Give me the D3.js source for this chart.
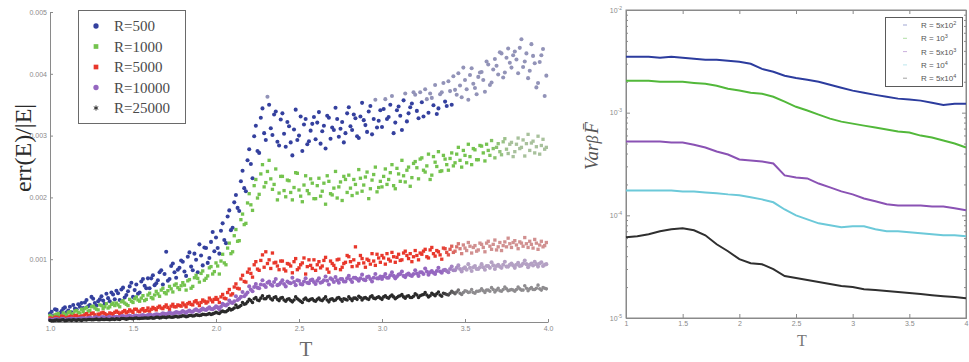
<!DOCTYPE html>
<html>
<head>
<meta charset="utf-8">
<script src="https://cdn.jsdelivr.net/npm/d3@7"></script>
<style>
  html, body { margin: 0; padding: 0; background: #fff; }
  svg { display: block; }
  .ax path, .ax line { stroke: #8a8a8a; }
  .ax text { font-family: 'Liberation Sans', sans-serif; font-size: 7px; fill: #8a8a8a; }
</style>
</head>
<body>
<svg id="chart" width="969" height="362"></svg>
<script>
// ---------- left panel: err(E)/|E| against T (values in units of 1e-4) ----------
// two interleaved sampling grids: T = 1.00, 1.02, ... and T = 1.01, 1.03, ...
const scatterTa = d3.range(100, 400, 2).map(k => k / 100);
const scatterTb = d3.range(101, 400, 2).map(k => k / 100);

const errR500a = [
  1.2, 0.8, 1.8, 1.3, 2.0, 1.4, 2.3, 2.6, 1.9, 2.3,
  2.1, 3.4, 2.6, 3.6, 2.5, 3.5, 3.3, 4.4, 3.2, 4.3,
  4.9, 3.4, 5.4, 4.2, 5.6, 3.9, 5.9, 4.6, 6.8, 5.3,
  5.3, 7.4, 6.1, 7.9, 5.9, 11.2, 6.8, 9.3, 7.0, 8.6,
  9.6, 7.3, 11.1, 8.2, 9.9, 12.4, 9.0, 11.8, 10.2, 14.4,
  13.5, 10.9, 15.8, 12.6, 17.9, 15.1, 20.4, 17.8, 24.3, 21.0,
  27.8, 23.1, 31.6, 27.2, 34.4, 29.3, 35.0, 30.1, 33.9, 28.4,
  33.6, 28.2, 31.5, 26.8, 34.2, 30.0, 27.5, 32.7, 29.1, 31.9,
  29.4, 33.8, 30.7, 27.9, 32.9, 31.3, 34.5, 29.8, 32.2, 30.4,
  34.6, 30.9, 32.8, 29.6, 35.3, 31.7, 33.9, 30.2, 35.8, 32.4,
  31.4, 35.9, 33.0, 36.4, 32.1, 34.7, 30.9, 36.8, 33.6, 35.2,
  36.6, 32.8, 35.4, 37.5, 33.7, 36.1, 38.2, 34.4, 37.0, 35.5,
  38.8, 35.0, 37.4, 40.1, 36.2, 39.0, 35.8, 40.9, 37.7, 39.5,
  40.3, 37.1, 41.5, 38.6, 42.4, 39.9, 43.3, 40.2, 44.1, 41.0,
  43.6, 40.1, 45.6, 42.0, 39.3, 44.8, 41.7, 38.5, 43.0, 36.4
];
const errR500b = [
  1.5, 1.9, 1.0, 1.6, 2.2, 1.7, 1.4, 2.0, 2.7, 2.9,
  3.0, 2.4, 3.9, 2.9, 3.2, 4.0, 2.8, 3.7, 4.6, 3.5,
  4.5, 5.1, 3.8, 4.8, 6.2, 5.0, 4.4, 6.4, 5.7, 6.9,
  6.9, 5.8, 6.6, 8.2, 7.6, 6.5, 8.9, 7.9, 8.3, 9.8,
  8.0, 10.4, 8.8, 10.9, 7.9, 10.6, 11.9, 9.4, 12.8, 11.3,
  11.8, 14.6, 13.1, 16.9, 14.7, 19.2, 18.3, 22.6, 21.5, 26.0,
  25.4, 29.9, 27.5, 32.9, 30.4, 36.3, 31.2, 33.4, 29.0, 32.6,
  30.3, 32.2, 28.9, 31.0, 29.3, 33.1, 31.8, 28.6, 30.8, 33.0,
  32.1, 28.7, 31.6, 33.2, 29.5, 30.9, 32.7, 31.1, 28.9, 33.6,
  31.5, 33.4, 29.9, 33.1, 32.5, 30.6, 34.8, 32.7, 31.3, 34.1,
  34.3, 32.7, 35.0, 30.4, 34.1, 33.2, 35.7, 32.3, 34.6, 37.0,
  34.0, 37.0, 33.1, 35.9, 36.8, 34.9, 33.5, 36.7, 38.5, 34.8,
  37.2, 39.6, 36.6, 38.1, 41.0, 37.5, 39.8, 38.4, 36.7, 40.2,
  39.0, 42.0, 38.2, 40.7, 41.3, 43.5, 39.4, 42.6, 41.8, 43.0,
  42.3, 44.2, 41.1, 43.3, 40.5, 42.9, 37.8, 41.9, 44.0, 39.7
];
const errR1000a = [
  0.9, 0.5, 1.1, 0.8, 1.3, 0.9, 1.5, 1.2, 1.7, 1.3,
  1.5, 2.2, 1.7, 2.4, 1.9, 2.6, 2.0, 2.8, 2.3, 2.9,
  2.9, 2.3, 3.3, 2.7, 3.5, 3.0, 3.9, 3.2, 4.1, 3.5,
  4.5, 3.6, 4.8, 4.0, 5.3, 4.4, 5.6, 4.7, 6.0, 5.1,
  6.2, 5.0, 6.7, 5.6, 7.4, 6.3, 8.1, 6.9, 8.6, 7.6,
  9.4, 7.6, 10.8, 9.1, 12.6, 11.2, 14.8, 13.0, 17.3, 15.8,
  20.6, 17.9, 22.9, 20.5, 25.3, 22.4, 26.0, 21.3, 24.6, 20.7,
  23.4, 20.1, 22.7, 19.6, 24.0, 21.2, 19.3, 23.5, 20.6, 22.3,
  19.8, 23.1, 21.0, 18.9, 22.6, 20.4, 24.2, 21.7, 19.5, 22.9,
  23.6, 20.3, 22.1, 24.5, 21.0, 23.3, 19.8, 22.8, 24.9, 21.6,
  21.7, 24.6, 22.9, 25.3, 21.4, 23.8, 26.0, 22.5, 24.9, 23.2,
  25.8, 23.0, 26.4, 24.1, 27.0, 23.6, 25.7, 27.4, 24.3, 26.2,
  24.4, 27.2, 25.6, 28.1, 24.9, 26.8, 28.6, 25.3, 27.7, 26.1,
  28.3, 25.9, 27.6, 29.2, 26.4, 28.7, 26.9, 29.5, 27.1, 28.9,
  27.4, 29.6, 28.1, 26.7, 30.2, 28.8, 27.2, 29.9, 28.4, 27.8
];
const errR1000b = [
  0.7, 1.0, 1.2, 0.8, 1.1, 1.4, 1.0, 1.6, 1.4, 1.9,
  2.0, 1.6, 2.3, 2.1, 1.8, 2.5, 2.3, 2.1, 2.7, 2.5,
  2.6, 3.1, 2.9, 2.5, 3.2, 3.6, 3.4, 3.7, 3.3, 4.2,
  3.8, 4.2, 4.4, 5.0, 4.6, 4.9, 5.2, 5.8, 5.4, 5.7,
  5.8, 6.5, 5.3, 7.0, 6.9, 7.7, 6.6, 7.3, 8.8, 8.0,
  8.9, 9.7, 9.4, 11.8, 10.9, 13.8, 12.9, 16.4, 15.6, 19.1,
  18.8, 21.9, 19.9, 23.8, 21.7, 24.2, 23.0, 22.1, 19.6, 23.4,
  21.1, 22.8, 20.8, 21.6, 23.9, 20.2, 22.0, 21.1, 23.0, 19.8,
  21.9, 20.2, 22.3, 23.5, 20.6, 21.5, 19.9, 22.5, 23.4, 20.8,
  21.5, 22.9, 20.7, 23.1, 22.0, 24.1, 21.4, 23.7, 20.9, 22.6,
  23.4, 22.1, 24.0, 21.9, 24.7, 22.6, 23.5, 24.4, 21.8, 25.5,
  24.8, 26.2, 24.4, 25.1, 22.9, 26.6, 25.0, 24.2, 26.8, 25.3,
  26.3, 25.1, 27.0, 26.0, 27.6, 25.6, 26.6, 27.9, 26.1, 28.4,
  27.2, 28.6, 26.8, 27.9, 28.1, 27.4, 29.0, 27.8, 28.6, 26.6,
  28.6, 27.9, 29.3, 28.7, 27.6, 29.1, 28.2, 27.0, 29.4, 28.1
];
const errR5000a = [
  0.5, 0.3, 0.6, 0.4, 0.7, 0.5, 0.8, 0.6, 0.9, 0.7,
  0.8, 1.2, 0.9, 1.3, 0.7, 1.1, 1.4, 1.0, 1.3, 0.9,
  1.6, 1.1, 1.5, 1.3, 1.8, 1.4, 1.9, 1.5, 2.0, 1.7,
  1.6, 2.2, 1.8, 2.4, 2.0, 2.6, 1.9, 2.7, 2.3, 2.5,
  2.9, 2.3, 3.0, 2.6, 3.3, 2.5, 3.4, 2.9, 3.7, 3.1,
  3.8, 3.0, 4.3, 3.6, 5.1, 4.4, 6.0, 5.2, 7.4, 6.3,
  8.4, 7.1, 9.6, 8.2, 10.7, 11.2, 9.9, 11.0, 9.5, 8.3,
  9.7, 8.1, 9.2, 7.8, 10.1, 8.6, 9.4, 7.6, 9.9, 8.5,
  8.2, 9.6, 8.9, 10.3, 7.9, 9.3, 8.5, 10.0, 8.7, 9.5,
  10.4, 8.8, 12.0, 9.3, 10.1, 8.7, 9.8, 10.9, 9.0, 10.2,
  10.6, 9.2, 10.0, 11.1, 9.5, 10.8, 9.9, 11.3, 10.1, 9.6,
  11.4, 9.9, 10.8, 11.6, 10.2, 11.9, 10.5, 11.2, 10.0, 11.7,
  10.7, 12.1, 11.3, 12.5, 10.9, 11.8, 12.7, 11.0, 12.2, 11.5,
  12.4, 11.2, 12.9, 11.6, 13.1, 12.0, 11.4, 12.8, 13.4, 11.9,
  13.0, 11.7, 12.6, 13.5, 11.9, 12.4, 13.2, 11.6, 12.9, 12.2
];
const errR5000b = [
  0.4, 0.6, 0.5, 0.8, 0.4, 0.6, 0.7, 0.9, 0.6, 0.8,
  1.0, 0.9, 1.2, 1.0, 1.1, 1.3, 1.2, 0.9, 1.2, 1.4,
  1.4, 1.3, 1.7, 1.5, 1.6, 1.9, 1.6, 1.8, 1.6, 2.1,
  1.9, 2.0, 2.2, 2.1, 2.3, 2.2, 2.4, 2.3, 2.6, 2.4,
  2.6, 2.8, 2.7, 3.1, 2.9, 3.0, 3.2, 3.1, 3.4, 3.5,
  3.5, 3.9, 3.7, 4.6, 4.2, 5.5, 5.3, 6.8, 6.4, 7.9,
  7.7, 9.1, 8.4, 9.8, 8.7, 9.3, 8.5, 9.4, 8.9, 9.7,
  8.4, 9.3, 8.9, 9.6, 8.3, 9.1, 10.2, 8.8, 9.0, 9.9,
  9.1, 8.6, 9.8, 8.4, 9.7, 9.0, 9.9, 8.3, 9.3, 10.6,
  9.6, 9.9, 8.9, 10.6, 9.4, 10.0, 9.2, 9.7, 10.8, 9.5,
  10.2, 10.9, 9.7, 10.4, 10.3, 9.8, 11.0, 10.6, 10.9, 10.4,
  10.6, 11.0, 11.3, 10.4, 11.5, 10.9, 11.4, 10.7, 11.8, 11.1,
  11.6, 11.1, 12.0, 11.7, 12.3, 11.4, 12.1, 11.9, 11.3, 12.6,
  11.9, 12.6, 12.1, 12.4, 11.5, 12.7, 12.2, 12.0, 12.5, 12.7,
  12.3, 12.8, 12.1, 12.5, 12.9, 11.8, 12.6, 12.3, 12.0, 12.7
];
const errR10000a = [
  0.25, 0.15, 0.3, 0.2, 0.35, 0.25, 0.3, 0.35, 0.25, 0.4,
  0.45, 0.35, 0.55, 0.4, 0.6, 0.45, 0.65, 0.5, 0.7, 0.55,
  0.7, 0.55, 0.8, 0.65, 0.85, 0.7, 0.9, 0.75, 0.95, 0.8,
  1.0, 0.8, 1.1, 0.95, 1.25, 1.05, 1.35, 1.15, 1.45, 1.3,
  1.6, 1.3, 1.7, 1.5, 1.9, 1.6, 2.0, 1.8, 2.2, 1.9,
  2.4, 1.9, 2.8, 2.5, 3.3, 2.9, 4.0, 3.6, 4.7, 4.3,
  5.6, 4.8, 6.0, 5.3, 6.6, 5.5, 6.4, 5.7, 6.8, 5.9,
  6.6, 5.6, 6.2, 7.0, 5.8, 6.5, 5.9, 6.9, 6.1, 6.7,
  6.0, 6.9, 6.3, 7.2, 5.9, 6.7, 7.1, 6.2, 6.8, 6.4,
  7.3, 6.3, 7.0, 6.5, 7.5, 6.6, 7.2, 6.4, 7.6, 6.9,
  6.8, 7.6, 7.0, 7.9, 6.9, 7.5, 8.0, 7.1, 7.7, 7.3,
  8.2, 7.3, 7.9, 8.5, 7.5, 8.1, 7.6, 8.6, 7.8, 8.3,
  7.9, 8.8, 8.2, 9.0, 8.0, 8.7, 9.2, 8.1, 8.9, 8.4,
  9.2, 8.3, 8.9, 9.5, 8.4, 9.1, 8.6, 9.6, 8.8, 9.3,
  8.6, 9.4, 9.0, 9.8, 8.7, 9.3, 9.6, 8.8, 9.5, 9.1
];
const errR10000b = [
  0.2, 0.3, 0.25, 0.35, 0.2, 0.3, 0.4, 0.3, 0.35, 0.45,
  0.4, 0.5, 0.45, 0.55, 0.5, 0.6, 0.55, 0.6, 0.5, 0.65,
  0.65, 0.75, 0.7, 0.8, 0.75, 0.85, 0.8, 0.9, 0.85, 0.95,
  0.95, 1.0, 1.05, 1.1, 1.15, 1.2, 1.25, 1.3, 1.35, 1.4,
  1.45, 1.55, 1.5, 1.75, 1.7, 1.8, 1.85, 2.0, 1.95, 2.1,
  2.2, 2.3, 2.6, 2.7, 3.0, 3.2, 3.4, 3.9, 4.0, 4.6,
  5.1, 5.5, 5.4, 5.9, 5.8, 6.2, 5.9, 6.3, 5.8, 6.2,
  6.0, 6.4, 6.1, 6.3, 6.6, 6.0, 6.4, 6.2, 6.6, 6.3,
  6.5, 6.2, 6.6, 6.5, 6.9, 6.3, 6.6, 6.8, 6.4, 6.9,
  6.7, 7.0, 6.8, 6.9, 6.7, 7.1, 6.8, 7.0, 6.9, 7.2,
  7.2, 7.0, 7.4, 7.3, 7.2, 7.6, 7.3, 7.5, 7.4, 7.6,
  7.7, 7.9, 7.6, 8.0, 7.9, 7.8, 8.1, 8.0, 8.2, 8.1,
  8.4, 8.2, 8.6, 8.4, 8.5, 8.3, 8.6, 8.7, 8.4, 8.7,
  8.7, 8.9, 8.6, 9.0, 8.9, 8.8, 9.1, 8.8, 9.1, 9.0,
  9.1, 8.9, 9.3, 9.2, 9.1, 9.0, 9.2, 9.3, 8.9, 9.2
];
const errR25000a = [
  0.1, 0.05, 0.15, 0.1, 0.2, 0.1, 0.15, 0.2, 0.1, 0.15,
  0.2, 0.15, 0.25, 0.2, 0.3, 0.2, 0.25, 0.3, 0.2, 0.3,
  0.35, 0.25, 0.4, 0.3, 0.45, 0.35, 0.5, 0.4, 0.45, 0.5,
  0.5, 0.45, 0.6, 0.5, 0.65, 0.55, 0.7, 0.6, 0.75, 0.7,
  0.85, 0.7, 0.9, 0.8, 1.0, 0.9, 1.1, 1.0, 1.2, 1.15,
  1.4, 1.2, 1.6, 1.5, 2.0, 1.9, 2.6, 2.3, 3.0, 2.8,
  3.5, 3.0, 3.8, 3.3, 4.1, 3.6, 4.0, 3.4, 3.9, 3.3,
  3.8, 3.2, 3.6, 3.1, 3.9, 3.4, 3.0, 3.7, 3.3, 3.6,
  3.2, 3.7, 3.3, 3.9, 3.1, 3.6, 3.4, 3.8, 3.2, 3.5,
  3.9, 3.3, 3.7, 4.0, 3.4, 3.8, 3.5, 4.1, 3.6, 3.9,
  3.5, 4.1, 3.7, 4.2, 3.6, 4.0, 4.3, 3.7, 4.1, 3.8,
  4.4, 3.8, 4.2, 4.6, 3.9, 4.5, 4.1, 4.7, 4.0, 4.4,
  4.2, 4.8, 4.4, 5.0, 4.3, 4.9, 4.6, 5.1, 4.5, 4.8,
  5.2, 4.6, 5.0, 5.4, 4.7, 5.3, 4.8, 5.5, 4.9, 5.1,
  4.8, 5.5, 5.0, 5.7, 4.9, 5.4, 5.1, 5.8, 5.0, 5.3
];
const errR25000b = [
  0.05, 0.1, 0.1, 0.15, 0.05, 0.15, 0.1, 0.15, 0.2, 0.1,
  0.2, 0.25, 0.2, 0.25, 0.2, 0.3, 0.25, 0.25, 0.3, 0.25,
  0.3, 0.4, 0.35, 0.35, 0.4, 0.45, 0.4, 0.45, 0.5, 0.45,
  0.55, 0.5, 0.6, 0.55, 0.6, 0.65, 0.6, 0.7, 0.65, 0.75,
  0.8, 0.75, 0.9, 0.85, 0.95, 0.95, 1.05, 1.1, 1.05, 1.25,
  1.3, 1.45, 1.5, 1.7, 1.8, 2.1, 2.2, 2.5, 2.7, 3.1,
  3.3, 3.6, 3.4, 3.7, 3.6, 3.9, 3.6, 3.8, 3.5, 3.7,
  3.4, 3.5, 3.3, 3.4, 3.6, 3.2, 3.5, 3.4, 3.5, 3.3,
  3.5, 3.4, 3.6, 3.4, 3.5, 3.3, 3.7, 3.5, 3.6, 3.4,
  3.6, 3.7, 3.5, 3.8, 3.7, 3.6, 3.9, 3.7, 3.8, 3.7,
  3.9, 3.8, 4.0, 3.9, 3.8, 4.1, 3.9, 4.0, 3.8, 4.0,
  4.2, 4.1, 4.3, 4.2, 4.1, 4.3, 4.4, 4.2, 4.5, 4.3,
  4.5, 4.6, 4.7, 4.5, 4.6, 4.8, 4.7, 4.6, 4.8, 4.9,
  4.9, 5.0, 4.8, 5.1, 5.0, 4.9, 5.1, 5.2, 5.0, 5.0,
  5.1, 5.2, 5.0, 5.3, 5.2, 5.1, 5.3, 5.2, 5.4, 5.2
];
const scatterLabels = ['R=500', 'R=1000', 'R=5000', 'R=10000', 'R=25000'];
const errTicks = [0.001, 0.002, 0.003, 0.004, 0.005];
const leftTTicks = [1.0, 1.5, 2.0, 2.5, 3.0, 3.5, 4.0];

// ---------- right panel: Var of beta F-bar against T ----------
const lineT = d3.range(10, 41).map(k => k / 10);
const varR5e2 = [3.50e-3, 3.50e-3, 3.50e-3, 3.42e-3, 3.50e-3, 3.42e-3, 3.35e-3, 3.27e-3, 3.27e-3, 3.20e-3,
  3.13e-3, 2.99e-3, 2.67e-3, 2.50e-3, 2.29e-3, 2.18e-3, 2.09e-3, 2.00e-3, 1.87e-3, 1.75e-3,
  1.64e-3, 1.56e-3, 1.49e-3, 1.43e-3, 1.37e-3, 1.34e-3, 1.31e-3, 1.25e-3, 1.19e-3, 1.22e-3, 1.22e-3];
const varR1e3 = [2.05e-3, 2.05e-3, 2.05e-3, 2.00e-3, 2.00e-3, 2.00e-3, 1.95e-3, 1.91e-3, 1.83e-3, 1.71e-3,
  1.64e-3, 1.56e-3, 1.53e-3, 1.43e-3, 1.28e-3, 1.14e-3, 1.05e-3, 9.58e-4, 8.75e-4, 8.18e-4,
  7.82e-4, 7.48e-4, 7.16e-4, 6.84e-4, 6.54e-4, 6.40e-4, 5.98e-4, 5.72e-4, 5.35e-4, 5.00e-4, 4.58e-4];
const varR5e3 = [5.23e-4, 5.23e-4, 5.23e-4, 5.23e-4, 5.11e-4, 5.11e-4, 4.88e-4, 4.58e-4, 4.19e-4, 3.91e-4,
  3.50e-4, 3.42e-4, 3.35e-4, 3.20e-4, 2.45e-4, 2.34e-4, 2.29e-4, 2.04e-4, 1.87e-4, 1.71e-4,
  1.60e-4, 1.46e-4, 1.37e-4, 1.28e-4, 1.25e-4, 1.25e-4, 1.25e-4, 1.22e-4, 1.22e-4, 1.17e-4, 1.12e-4];
const varR1e4 = [1.75e-4, 1.75e-4, 1.75e-4, 1.75e-4, 1.75e-4, 1.71e-4, 1.71e-4, 1.67e-4, 1.64e-4, 1.60e-4,
  1.57e-4, 1.50e-4, 1.43e-4, 1.34e-4, 1.14e-4, 1.00e-4, 9.14e-5, 8.36e-5, 7.99e-5, 7.64e-5,
  7.82e-5, 7.82e-5, 7.31e-5, 6.99e-5, 6.99e-5, 6.83e-5, 6.68e-5, 6.53e-5, 6.39e-5, 6.39e-5, 6.25e-5];
const varR5e4 = [6.11e-5, 6.25e-5, 6.53e-5, 6.99e-5, 7.31e-5, 7.48e-5, 7.15e-5, 6.39e-5, 5.23e-5, 4.47e-5,
  3.74e-5, 3.42e-5, 3.34e-5, 2.99e-5, 2.56e-5, 2.45e-5, 2.34e-5, 2.24e-5, 2.14e-5, 2.05e-5,
  2.00e-5, 1.91e-5, 1.87e-5, 1.83e-5, 1.79e-5, 1.75e-5, 1.71e-5, 1.67e-5, 1.63e-5, 1.60e-5, 1.56e-5];
const lineLabels = ['R = 5x10', 'R = 10', 'R = 5x10', 'R = 10', 'R = 5x10'];
const lineLabelExp = ['2', '3', '3', '4', '4'];
const varDecades = [1e-5, 1e-4, 1e-3, 1e-2];
const rightTTicks = [1, 1.5, 2, 2.5, 3, 3.5, 4];

const svg = d3.select('#chart');

// ================= left panel =================
const xL = d3.scaleLinear().domain([1, 4]).range([50, 548]);
const yL = d3.scaleLinear().domain([0, 0.005]).range([321, 12]);

svg.append('g').attr('class', 'ax')
  .attr('transform', 'translate(0,322)')
  .call(d3.axisBottom(xL).tickValues(leftTTicks).tickFormat(d3.format('.1f')).tickSize(-3).tickSizeOuter(0).tickPadding(4));

svg.append('g').attr('class', 'ax')
  .attr('transform', 'translate(50,0)')
  .call(d3.axisLeft(yL).tickValues(errTicks).tickFormat(d3.format('.3f')).tickSize(-3).tickSizeOuter(0).tickPadding(3));

const scatterSeries = [
  { a: errR500a, b: errR500b, color: '#34409e', shape: d3.symbolCircle, size: 13 },
  { a: errR1000a, b: errR1000b, color: '#74c34e', shape: d3.symbolSquare, size: 11 },
  { a: errR5000a, b: errR5000b, color: '#e8372b', shape: d3.symbolSquare, size: 11 },
  { a: errR10000a, b: errR10000b, color: '#9567c0', shape: d3.symbolCircle, size: 13 },
  { a: errR25000a, b: errR25000b, color: '#2a2a2a', shape: d3.symbolCircle, size: 10 }
];

// the scan washes out the upper band and the right-hand end of the plot
function washed(color, px, py) {
  let f;
  if (py < 100) f = 1;
  else {
    const edge = py < 200 ? 485 : 440;
    f = Math.max(0, Math.min(1, (px - edge) / 25));
  }
  return d3.interpolateRgb(color, '#c4c0c6')(0.65 * f);
}

scatterSeries.forEach(s => {
  const pts = s.a.map((v, i) => ({ t: scatterTa[i], v: v * 1e-4 }))
    .concat(s.b.map((v, i) => ({ t: scatterTb[i], v: v * 1e-4 })));
  svg.append('g')
    .selectAll('path')
    .data(pts)
    .join('path')
    .attr('transform', d => `translate(${xL(d.t)},${yL(d.v)})`)
    .attr('d', d3.symbol(s.shape, s.size))
    .attr('fill', d => washed(s.color, xL(d.t), yL(d.v)));
});

// legend
const legL = svg.append('g');
legL.append('rect').attr('x', 78.5).attr('y', 10.5).attr('width', 107).attr('height', 113)
  .attr('fill', '#fff').attr('stroke', '#6a6a6a');
scatterLabels.forEach((lab, i) => {
  const y = 26 + i * 20.5;
  const s = scatterSeries[i];
  legL.append('path').attr('transform', `translate(96,${y})`)
    .attr('d', d3.symbol(i === 4 ? d3.symbolAsterisk : s.shape, i === 4 ? 18 : 22))
    .attr('fill', s.color).attr('stroke', i === 4 ? s.color : 'none');
  legL.append('text').attr('x', 114).attr('y', y + 5)
    .attr('font-family', "'Liberation Serif', serif").attr('font-size', 15).attr('fill', '#4a4a4a')
    .text(lab);
});

svg.append('text')
  .attr('transform', 'translate(31,148) rotate(-90)')
  .attr('text-anchor', 'middle')
  .attr('font-family', "'Liberation Serif', serif").attr('font-size', 24).attr('fill', '#2a2a2a')
  .text('err(E)/|E|');

svg.append('text').attr('x', 306).attr('y', 356).attr('text-anchor', 'middle')
  .attr('font-family', "'Liberation Serif', serif").attr('font-size', 21).attr('fill', '#6a6a6a')
  .text('T');

// ================= right panel =================
const xR = d3.scaleLinear().domain([1, 4]).range([626, 966]);
const yR = d3.scaleLog().domain([1e-5, 1e-2]).range([318, 10]);

const minorVar = [];
varDecades.slice(0, 3).forEach(d => { for (let k = 2; k <= 9; k++) minorVar.push(d * k); });

svg.append('rect').attr('x', 626).attr('y', 10).attr('width', 340).attr('height', 308)
  .attr('fill', 'none').attr('stroke', '#8a8a8a');

svg.append('g').attr('class', 'ax').attr('transform', 'translate(0,318)')
  .call(d3.axisBottom(xR).tickValues(rightTTicks).tickFormat(d3.format('~g')).tickSize(-4).tickSizeOuter(0).tickPadding(3));
svg.append('g').attr('class', 'ax').attr('transform', 'translate(0,10)')
  .call(d3.axisTop(xR).tickValues(rightTTicks).tickFormat('').tickSize(-4).tickSizeOuter(0));

const gyL = svg.append('g').attr('class', 'ax').attr('transform', 'translate(626,0)')
  .call(d3.axisLeft(yR).tickValues(varDecades).tickSize(-4).tickSizeOuter(0).tickPadding(4));
gyL.selectAll('.tick text').each(function (d) {
  const t = d3.select(this).text('');
  t.append('tspan').text('10');
  t.append('tspan').attr('dy', -3).attr('font-size', 5).text(Math.round(Math.log10(d)));
});
svg.append('g').attr('class', 'ax').attr('transform', 'translate(626,0)')
  .call(d3.axisLeft(yR).tickValues(minorVar).tickFormat('').tickSize(-2).tickSizeOuter(0));
svg.append('g').attr('class', 'ax').attr('transform', 'translate(966,0)')
  .call(d3.axisRight(yR).tickValues(varDecades).tickFormat('').tickSize(-4).tickSizeOuter(0));
svg.append('g').attr('class', 'ax').attr('transform', 'translate(966,0)')
  .call(d3.axisRight(yR).tickValues(minorVar).tickFormat('').tickSize(-2).tickSizeOuter(0));

const lineSeries = [
  { values: varR5e2, color: '#2c3c9e' },
  { values: varR1e3, color: '#52b83a' },
  { values: varR5e3, color: '#8a52b4' },
  { values: varR1e4, color: '#6cc9d9' },
  { values: varR5e4, color: '#2f2f2f' }
];
const line = d3.line().x(d => xR(d.t)).y(d => yR(d.v));
lineSeries.forEach(s => {
  svg.append('path')
    .datum(s.values.map((v, i) => ({ t: lineT[i], v })))
    .attr('d', line)
    .attr('fill', 'none').attr('stroke', s.color).attr('stroke-width', 2);
});

// legend
const legR = svg.append('g');
legR.append('rect').attr('x', 885.5).attr('y', 17.5).attr('width', 77).attr('height', 69)
  .attr('fill', '#fff').attr('stroke', '#5a5a5a');
lineLabels.forEach((lab, i) => {
  const y = 25 + i * 13.3;
  legR.append('line').attr('x1', 903).attr('x2', 907).attr('y1', y).attr('y2', y)
    .attr('stroke', lineSeries[i].color).attr('stroke-opacity', 0.45);
  const t = legR.append('text').attr('x', 921).attr('y', y + 3)
    .attr('font-family', "'Liberation Sans', sans-serif").attr('font-size', 8).attr('fill', '#555');
  t.append('tspan').text(lab);
  t.append('tspan').attr('dy', -3).attr('font-size', 5.5).text(lineLabelExp[i]);
});

const yLabR = svg.append('text')
  .attr('transform', 'translate(598,146) rotate(-90)')
  .attr('text-anchor', 'middle')
  .attr('font-family', "'Liberation Serif', serif").attr('font-size', 19).attr('font-style', 'italic')
  .attr('fill', '#555');
yLabR.append('tspan').text('Var');
yLabR.append('tspan').attr('font-size', 16).text('β');
yLabR.append('tspan').attr('dx', 2).text('F\u0304');

svg.append('text').attr('x', 802).attr('y', 346).attr('text-anchor', 'middle')
  .attr('font-family', "'Liberation Serif', serif").attr('font-size', 16).attr('fill', '#777')
  .text('T');
</script>
</body>
</html>
